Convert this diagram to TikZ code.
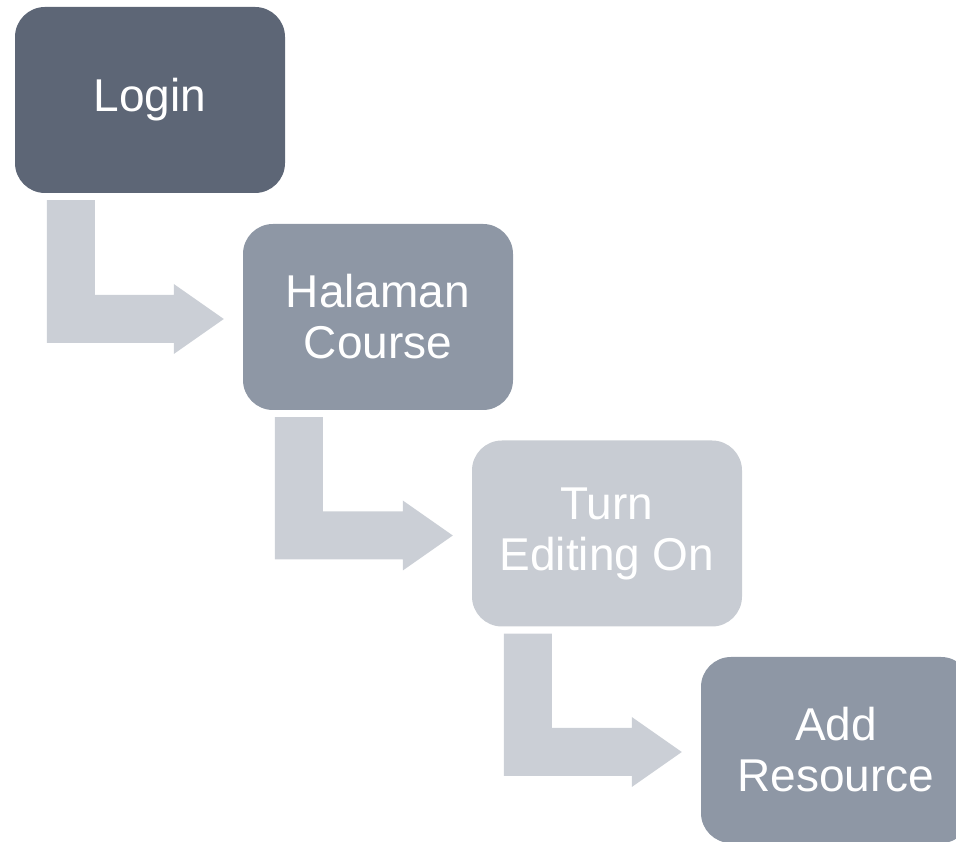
\documentclass[tikz,border=0pt]{standalone}
\usepackage{fontspec}
\setmainfont{Liberation Sans}
\usetikzlibrary{calc}
\definecolor{stepdark}{HTML}{5D6676}
\definecolor{stepmid}{HTML}{8E97A5}
\definecolor{steplight}{HTML}{C8CCD3}
\definecolor{bendgray}{HTML}{CBCFD6}
\tikzset{
  stepbox/.style={rounded corners=30pt, minimum width=270pt, minimum height=186pt,
    align=center, text=white, inner sep=0pt,
    font=\fontsize{46}{51}\selectfont}
}
\newcommand*{\BendArrow}[2]{% #1 = upper box, #2 = lower box
\coordinate (bendA) at ($(#1.south west)+(32,-7)$);
\coordinate (bendB) at ($(#1.south west)+(80,-7)$);
\coordinate (bendT) at ($(#2.west)+(-19,-2)$);
\fill [bendgray] (bendA) -- (bendB) |- ($(bendT)+(-50,24)$) -- ++(0,11)
  -- (bendT) -- ++(-50,-35) -- ++(0,11) -| (bendA) -- cycle;
}

\begin{document}
\begin{tikzpicture}[x=1pt,y=1pt]
    \useasboundingbox (0,0) rectangle (956,842);

    \node [stepbox, fill=stepdark] (login) at (150,742) {Login};
    \node [stepbox, fill=stepmid] (course) at (378,525) {Halaman\\Course};
    \node [stepbox, fill=steplight] (editing) at (607,308.5) {Turn\\Editing On};
    \node [stepbox, fill=stepmid] (resource) at (836,92) {Add\\Resource};

    \BendArrow{login}{course}
    \BendArrow{course}{editing}
    \BendArrow{editing}{resource}
\end{tikzpicture}
\end{document}
